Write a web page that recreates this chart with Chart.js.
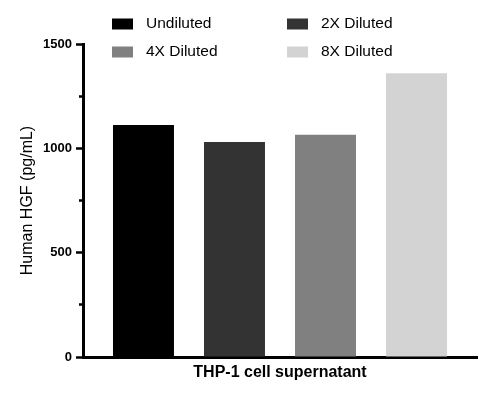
<!DOCTYPE html>
<html lang="en">
<head>
    <meta charset="UTF-8">
    <title>Human HGF - THP-1 cell supernatant</title>
    <script src="https://cdn.jsdelivr.net/npm/chart.js"></script>
    <style>
        html, body { margin: 0; padding: 0; background: #ffffff; }
        .chart-box { width: 487px; height: 399px; position: relative; }
    </style>
</head>
<body>
    <div class="chart-box">
        <canvas id="hgfChart"></canvas>
    </div>

    <script>
        // data
        const categories = ['THP-1 cell supernatant'];
        const seriesNames = ['Undiluted', '2X Diluted', '4X Diluted', '8X Diluted'];
        const undiluted = [1112];
        const diluted2x = [1030];
        const diluted4x = [1065];
        const diluted8x = [1360];
        const yTickLabels = [0, 500, 1000, 1500];

        const seriesValues = [undiluted, diluted2x, diluted4x, diluted8x];
        const seriesColors = ['#000000', '#333333', '#808080', '#d3d3d3'];
        const fontFamily = 'Arial, "Liberation Sans", sans-serif';

        // 2 x 2 legend at the top, drawn on the canvas
        const gridLegend = {
            id: 'gridLegend',
            afterDraw(chart) {
                const ctx = chart.ctx;
                const cols = [112, 287];
                const rows = [24, 52];
                ctx.save();
                ctx.font = '15.5px ' + fontFamily;
                ctx.textBaseline = 'middle';
                chart.data.datasets.forEach((ds, i) => {
                    const x = cols[i % 2];
                    const y = rows[Math.floor(i / 2)];
                    ctx.fillStyle = ds.backgroundColor;
                    ctx.fillRect(x, y - 5.5, 21, 11);
                    ctx.fillStyle = '#000000';
                    ctx.fillText(ds.label, x + 34, y);
                });
                ctx.restore();
            }
        };

        function initChart() {
            const ctx = document.getElementById('hgfChart').getContext('2d');
            new Chart(ctx, {
                type: 'bar',
                data: {
                    labels: categories,
                    datasets: seriesNames.map((name, i) => ({
                        label: name,
                        data: seriesValues[i],
                        backgroundColor: seriesColors[i],
                        borderWidth: 0,
                        categoryPercentage: 0.924,
                        barPercentage: 0.67
                    }))
                },
                options: {
                    responsive: true,
                    maintainAspectRatio: false,
                    animation: false,
                    layout: { padding: { top: 44, right: 10, left: 0, bottom: 0 } },
                    plugins: {
                        legend: { display: false },
                        tooltip: { enabled: false }
                    },
                    scales: {
                        x: {
                            grid: { display: false, drawTicks: false },
                            border: { display: true, color: '#000000', width: 3 },
                            ticks: {
                                color: '#000000',
                                padding: 6,
                                font: { family: fontFamily, size: 16, weight: 'bold' }
                            },
                            afterFit: (scale) => { scale.height = 42; }
                        },
                        y: {
                            min: 0,
                            max: 1500,
                            border: { display: true, color: '#000000', width: 3 },
                            grid: {
                                drawOnChartArea: false,
                                drawTicks: true,
                                tickLength: 7,
                                tickWidth: 2.5,
                                tickColor: '#000000',
                                // minor ticks (250, 750, 1250) are shorter: skip the outer part
                                tickBorderDash: (c) => (c.tick && yTickLabels.includes(c.tick.value)) ? [] : [0, 3, 6, 100]
                            },
                            ticks: {
                                stepSize: 250,
                                color: '#000000',
                                padding: 4,
                                font: { family: fontFamily, size: 13, weight: 'bold' },
                                callback: (v) => yTickLabels.includes(v) ? v : ''
                            },
                            title: {
                                display: true,
                                text: 'Human HGF (pg/mL)',
                                color: '#000000',
                                font: { family: fontFamily, size: 16 },
                                padding: { top: 18, bottom: 0 }
                            },
                            afterFit: (scale) => { scale.width = 83; }
                        }
                    }
                },
                plugins: [gridLegend]
            });
        }

        document.addEventListener('DOMContentLoaded', initChart);
    </script>
</body>
</html>
